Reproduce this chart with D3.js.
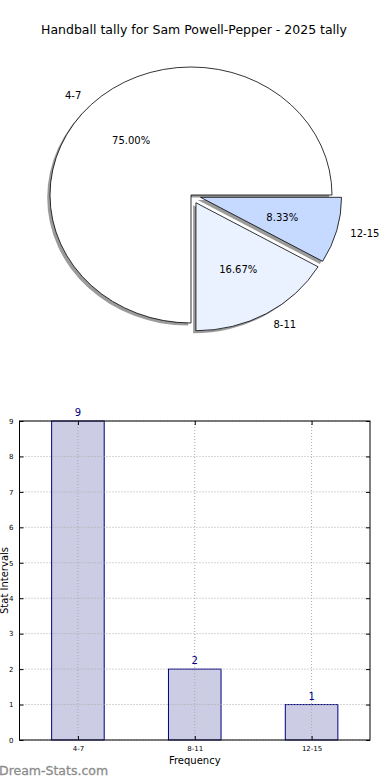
<!DOCTYPE html>
<html><head><meta charset="utf-8">
<script src="https://cdn.jsdelivr.net/npm/d3@7"></script>
<style>body{margin:0;background:#fff}svg{display:block;font-family:"DejaVu Sans",sans-serif}</style>
</head><body>
<svg id="c" width="390" height="780"></svg>
<script>
const title = "Handball tally for Sam Powell-Pepper - 2025 tally";
const categories = ["4-7", "8-11", "12-15"];
const counts = [9, 2, 1];
const pieColors = ["#ffffff", "#eaf1ff", "#c6d9ff"];
const explode = [0, 0.07, 0.07];
const yTicks = [0,1,2,3,4,5,6,7,8,9];
const xLabel = "Frequency";
const yLabel = "Stat Intervals";
const watermark = "Dream-Stats.com";

const svg = d3.select("#c");
svg.append("rect").attr("width",390).attr("height",780).attr("fill","#fff");

svg.append("text").attr("x",194).attr("y",34).attr("text-anchor","middle")
  .attr("font-size",12.5).attr("fill","#000").text(title);

// ---- Pie ----
const cx = 191, cy = 195, rx = 141, ry = 128;
const total = d3.sum(counts);
const pie = d3.pie().sort(null).startAngle(Math.PI/2).endAngle(Math.PI/2 - 2*Math.PI);
const arcs = pie(counts);
const arc = d3.arc().innerRadius(0).outerRadius(100);
const pg = svg.append("g");
function off(a,i){
  const m = (a.startAngle + a.endAngle)/2;
  return [cx + explode[i]*rx*Math.sin(m), cy - explode[i]*ry*Math.cos(m), m];
}
arcs.forEach((a,i)=>{
  const [x0,y0] = off(a,i);
  pg.append("path").attr("d", arc(a))
    .attr("transform", `translate(${x0-2.8},${y0+2.6}) scale(${rx/100},${ry/100})`)
    .attr("fill","#8a8a8a").attr("opacity",0.85);
});
arcs.forEach((a,i)=>{
  const [x0,y0] = off(a,i);
  pg.append("path").attr("d", arc(a))
    .attr("transform", `translate(${x0},${y0}) scale(${rx/100},${ry/100})`)
    .attr("fill",pieColors[i]).attr("stroke","#000").attr("stroke-width",0.8)
    .attr("vector-effect","non-scaling-stroke");
});
arcs.forEach((a,i)=>{
  const [x0,y0,m] = off(a,i);
  const s = Math.sin(m), c = -Math.cos(m);
  pg.append("text").attr("x", x0 + 1.1*rx*s).attr("y", y0 + 1.1*ry*c).attr("dy","0.35em")
    .attr("text-anchor", s > 0 ? "start" : "end").attr("font-size",10).text(categories[i]);
  pg.append("text").attr("x", x0 + 0.6*rx*s).attr("y", y0 + 0.6*ry*c).attr("dy","0.35em")
    .attr("text-anchor","middle").attr("font-size",10)
    .text((counts[i]/total*100).toFixed(2)+"%");
});

// ---- Bar chart ----
const L = 19.5, R = 370, T = 421, B = 740;
const x = d3.scaleLinear().domain([-0.5, 2.5]).range([L, R]);
const y = d3.scaleLinear().domain([0, 9]).range([B, T]);
const bw = x(0.45) - x(0);
const bg = svg.append("g");

bg.selectAll("rect.bar").data(counts).join("rect").attr("class","bar")
  .attr("x",(d,i)=>x(i)-bw/2).attr("y",d=>y(d)).attr("width",bw).attr("height",d=>B-y(d))
  .attr("fill","#ccccE5").attr("stroke","#000080").attr("stroke-width",1);

bg.selectAll("line.gy").data(yTicks).join("line").attr("class","gy")
  .attr("x1",L).attr("x2",R).attr("y1",d=>y(d)).attr("y2",d=>y(d))
  .attr("stroke","#aaaaaa").attr("stroke-width",1).attr("stroke-dasharray","1,2");
bg.selectAll("line.gx").data(categories).join("line").attr("class","gx")
  .attr("x1",(d,i)=>x(i)).attr("x2",(d,i)=>x(i)).attr("y1",T).attr("y2",B)
  .attr("stroke","#aaaaaa").attr("stroke-width",1).attr("stroke-dasharray","1,2");

bg.append("rect").attr("x",L).attr("y",T).attr("width",R-L).attr("height",B-T)
  .attr("fill","none").attr("stroke","#000").attr("stroke-width",1);

const yAxis = d3.axisLeft(y).tickValues(yTicks).tickFormat(d3.format("d")).tickSizeInner(-4).tickSizeOuter(0).tickPadding(6);
const ya = bg.append("g").attr("transform",`translate(${L},0)`).call(yAxis);
ya.select(".domain").remove();
ya.selectAll("text").attr("font-size",7).attr("font-family","DejaVu Sans");
const yr = bg.append("g").attr("transform",`translate(${R},0)`)
  .call(d3.axisRight(y).tickValues(yTicks).tickFormat("").tickSizeInner(-4).tickSizeOuter(0));
yr.select(".domain").remove();
const xAxis = d3.axisBottom(x).tickValues([0,1,2]).tickFormat(i=>categories[i]).tickSizeInner(-4).tickSizeOuter(0).tickPadding(6);
const xa = bg.append("g").attr("transform",`translate(0,${B})`).call(xAxis);
xa.select(".domain").remove();
xa.selectAll("text").attr("font-size",7).attr("font-family","DejaVu Sans");
const xt = bg.append("g").attr("transform",`translate(0,${T})`)
  .call(d3.axisTop(x).tickValues([0,1,2]).tickFormat("").tickSizeInner(-4).tickSizeOuter(0));
xt.select(".domain").remove();

bg.selectAll("text.val").data(counts).join("text").attr("class","val")
  .attr("x",(d,i)=>x(i)).attr("y",d=>y(d)-5).attr("text-anchor","middle")
  .attr("font-size",10).attr("fill","#000080").text(d=>d);

svg.append("text").attr("x",(L+R)/2).attr("y",764).attr("text-anchor","middle")
  .attr("font-size",10).text(xLabel);
svg.append("text").attr("transform",`translate(8,${(T+B)/2}) rotate(-90)`).attr("text-anchor","middle")
  .attr("font-size",10).text(yLabel);
svg.append("text").attr("x",-1).attr("y",775).attr("font-size",12.5)
  .attr("fill","#8c8c8c").attr("stroke","#8c8c8c").attr("stroke-width",0.3).text(watermark);
</script>
</body></html>
